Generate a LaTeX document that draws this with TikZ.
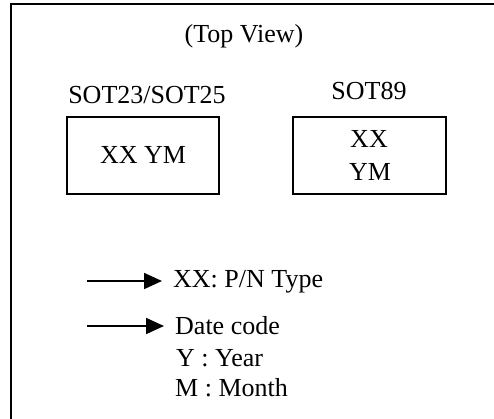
\documentclass[tikz,border=0pt]{standalone}
\usepackage{fontspec}
\setmainfont{Liberation Serif}
\usepackage{tikz}
\usetikzlibrary{arrows.meta, positioning}

\begin{document}
\begin{tikzpicture}[x=1pt, y=-1pt, every node/.style={align=center, inner sep=0pt, font=\fontsize{26}{33}\selectfont},
        markbox/.style={draw, line width=1.8pt},
        pointer/.style={line width=1.8pt, -{Triangle[length=18pt, width=16pt]}}]
        \useasboundingbox (0,0) rectangle (494,419);
        \clip (0,0) rectangle (494,419);
        \draw[line width=2pt] (11,4.5) rectangle (530,450);

        \node[anchor=base] (view) at (244,43) {(Top View)};

        % packages
        \node[anchor=base] (sot23) at (147,104) {SOT23/SOT25};
        \node[anchor=base] (sot89) at (369,100) {SOT89};
        \draw[markbox] (67,117) rectangle (219,194);
        \draw[markbox] (293,117) rectangle (446,194);
        \node[anchor=base] (mark23) at (143,164) {XX YM};
        \node[anchor=base] (xx89) at (369,148) {XX};
        \node[anchor=base] (ym89) at (370,181) {YM};

        % legend
        \node[anchor=base west] (type) at (173,287) {XX: P/N Type};
        \node[anchor=base west] (date) at (175,334) {Date code};
        \node[anchor=base west] (year) at (176,366) {Y : Year};
        \node[anchor=base west] (month) at (175,396) {M : Month};
        \coordinate (s1) at (87,281);
        \coordinate (s2) at (87,326);

        \draw[pointer, shorten >=11pt] (s1) -- (s1 -| type.west);
        \draw[pointer, shorten >=11pt] (s2) -- (s2 -| date.west);
    \end{tikzpicture}
\end{document}
